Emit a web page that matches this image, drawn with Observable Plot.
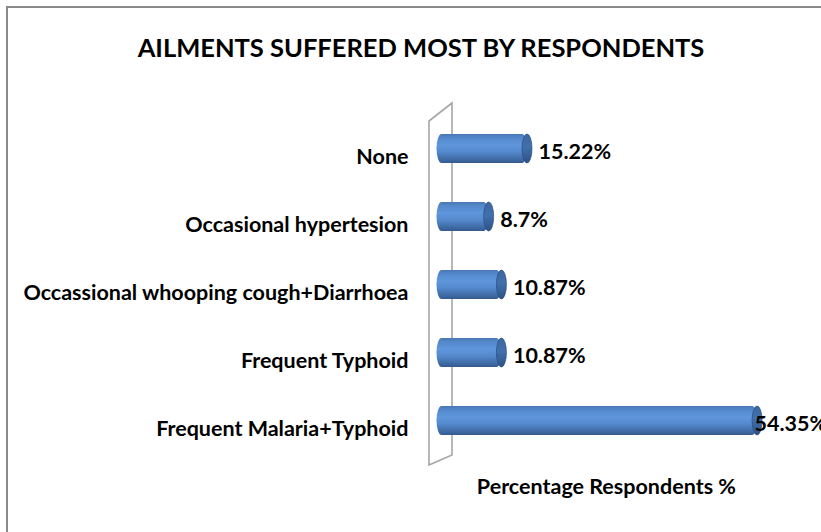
<!DOCTYPE html>
<html>
<head>
<meta charset="utf-8">
<script src="https://cdn.jsdelivr.net/npm/d3@7"></script>
<script src="https://cdn.jsdelivr.net/npm/@observablehq/plot@0.6"></script>
<style>
  html, body { margin: 0; padding: 0; background: #fff; }
  #wrap { position: relative; width: 821px; height: 532px; overflow: hidden; font-family: Lato, "Open Sans", sans-serif; }
  #border { position: absolute; left: 6px; top: 6px; width: 900px; height: 900px; border: 2px solid #8a8a8a; box-sizing: border-box; }
  #title { position: absolute; left: 0; top: 30px; width: 842px; text-align: center; font-weight: 700; font-size: 25.5px; color: #000; line-height: 34px; }
  #chart { position: absolute; left: 0; top: 0; }
</style>
</head>
<body>
<div id="wrap">
  <div id="border"></div>
  <svg width="0" height="0" style="position:absolute">
    <defs>
      <linearGradient id="cylBody" x1="0" y1="0" x2="0" y2="1">
        <stop offset="0" stop-color="#4877b3"/>
        <stop offset="0.12" stop-color="#5387c9"/>
        <stop offset="0.38" stop-color="#5f96dc"/>
        <stop offset="0.62" stop-color="#5489cd"/>
        <stop offset="0.86" stop-color="#406ca6"/>
        <stop offset="1" stop-color="#335a8e"/>
      </linearGradient>
      <linearGradient id="cylCap" x1="0" y1="0" x2="0" y2="1">
        <stop offset="0" stop-color="#3c67a0"/>
        <stop offset="0.45" stop-color="#4170ac"/>
        <stop offset="1" stop-color="#2d5286"/>
      </linearGradient>
    </defs>
  </svg>
  <div id="chart"></div>
  <div id="title">AILMENTS SUFFERED MOST BY RESPONDENTS</div>
</div>
<script>
const categories = [
  "None",
  "Occasional hypertesion",
  "Occassional whooping cough+Diarrhoea",
  "Frequent Typhoid",
  "Frequent Malaria+Typhoid"
];
const values = [15.22, 8.7, 10.87, 10.87, 54.35];
const xAxisTitle = "Percentage Respondents %";

const data = categories.map((c, i) => ({ category: c, value: values[i] }));

const plot = Plot.plot({
  width: 821,
  height: 532,
  marginLeft: 437.5,
  marginRight: 30.7,
  marginTop: 112.5,
  marginBottom: 75,
  style: { fontFamily: "Lato, 'Open Sans', sans-serif", background: "transparent", overflow: "visible" },
  x: { domain: [0, 60], axis: null },
  y: { domain: categories, paddingInner: 0.58, paddingOuter: 0.29, label: null },
  marks: [
    Plot.axisY({ tickSize: 0, tickPadding: 29.5, dy: 8, fontSize: 21.5, fontWeight: "bold", fill: "#000", label: null }),
    Plot.barX(data, { y: "category", x1: 0, x2: "value", insetLeft: -1, rx: 5, ry: 14.5, fill: "url(#cylBody)" }),
    Plot.barX(data, { y: "category", x1: "value", x2: "value", insetLeft: -5, insetRight: -5, rx: 5, ry: 14.5, fill: "url(#cylCap)", stroke: "#2b4e7f", strokeWidth: 0.7 }),
    Plot.text(data.filter(d => d.value < 50), { y: "category", x: "value", text: d => d.value + "%", textAnchor: "start", dx: 11, dy: 3.5, fontSize: 21.5, fontWeight: "bold", fill: "#000" }),
    Plot.text(data.filter(d => d.value >= 50), { y: "category", x: "value", text: d => d.value + "%", textAnchor: "start", dx: -3, dy: 3.5, fontSize: 21.5, fontWeight: "bold", fill: "#000" }),
    Plot.text([xAxisTitle], { frameAnchor: "bottom", text: d => d, dx: -8, dy: 36, fontSize: 21.5, fontWeight: "bold", fill: "#000" })
  ]
});

// 3D wall behind the bars, positioned from the scales
const xs = plot.scale("x");
const x0 = xs.apply(0);
const wallTop = 112.5, wallBottom = 532 - 75;
const ns = "http://www.w3.org/2000/svg";
const wall = document.createElementNS(ns, "path");
const lx = x0 - 8.5, rx = x0 + 14.5;
wall.setAttribute("d", `M${lx},${wallTop + 8.5}L${rx},${wallTop - 9.5}L${rx},${wallBottom - 2}L${lx},${wallBottom + 8}Z`);
wall.setAttribute("fill", "#fff");
wall.setAttribute("stroke", "#a6a6a6");
wall.setAttribute("stroke-width", "1.6");
const firstBar = plot.querySelector("g[aria-label='bar']");
plot.insertBefore(wall, firstBar);

document.getElementById("chart").appendChild(plot);
</script>
</body>
</html>
